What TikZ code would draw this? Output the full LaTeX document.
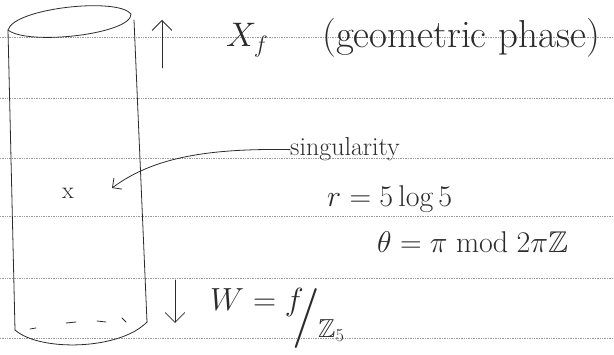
\RequirePackage{fix-cm}
\documentclass[tikz,border=0pt]{standalone}
\usepackage{amssymb}
\usepackage{fontspec}
\usetikzlibrary{arrows.meta,positioning}
\definecolor{inkc}{HTML}{2B2B2B}
\definecolor{rule}{HTML}{9A9A9A}

\begin{document}
\begin{tikzpicture}[
  x=1pt, y=-1pt,
  pen/.style={draw=inkc, line width=0.8pt, line cap=round, line join=round},
  ruling/.style={draw=rule, densely dotted, line width=0.7pt},
  lbl/.style={text=inkc, inner sep=0pt, anchor=base west},
  arr/.style={pen, -{Straight Barb[scale=3.2]}},
  thinarr/.style={pen, -{Straight Barb[scale=2.2]}}
]
\useasboundingbox (0,0) rectangle (614,355);

% ruled paper
\foreach \yy in {37,98,158,216,278,338}
  \draw[ruling] (0,\yy) -- (614,\yy);

% cylinder
\draw[pen] (8,30) .. controls (14,8) and (118,-3) .. (131,14)
  .. controls (132,34) and (28,46) .. cycle;
\draw[pen] (8,30) -- (15,330);
\draw[pen] (134,20) -- (147,322);
\draw[pen] (15,330) .. controls (40,352) and (120,350) .. (147,322);
\foreach \xa/\ya/\xb/\yb in {30/329/36/328, 66/323/76/322, 97/321/106/322, 122/318/126/322}
  \draw[pen] (\xa,\ya) -- (\xb,\yb);

% flow arrows
\coordinate (upbot) at (162,68);
\coordinate (uptop) at (162,20);
\coordinate (dntop) at (175,280);
\coordinate (dnbot) at (175,323);
\draw[arr] (upbot) -- (uptop);
\draw[arr] (dntop) -- (dnbot);

% labels
\node[lbl, font=\fontsize{34}{36}\selectfont] (xf) at (226,47) {$X_f$};
\node[lbl, font=\fontsize{39}{41}\selectfont] (phase) at (322,48) {(geometric phase)};
\node[lbl, font=\fontsize{26}{28}\selectfont] (singlbl) at (290,156) {singularity};
\node[lbl, font=\fontsize{24}{26}\selectfont] (mark) at (62,199) {x};
\coordinate (tip) at (112,188);
\node[lbl, font=\fontsize{30}{32}\selectfont] (rval) at (327,207) {$r=5\log 5$};
\node[lbl, font=\fontsize{30}{32}\selectfont] (theta) at (377,253) {$\theta=\pi \bmod 2\pi\mathbb{Z}$};
\node[lbl, font=\fontsize{32}{34}\selectfont] (wval) at (210,311) {$W=f$};
\node[lbl, font=\fontsize{60}{62}\selectfont] (slash) at (292,334) {$/$};
\node[lbl, font=\fontsize{26}{28}\selectfont] (zfive) at (318,338) {$\mathbb{Z}_5$};

\draw[thinarr] (singlbl.west) .. controls (200,148) and (150,160) .. (tip);
\end{tikzpicture}
\end{document}
